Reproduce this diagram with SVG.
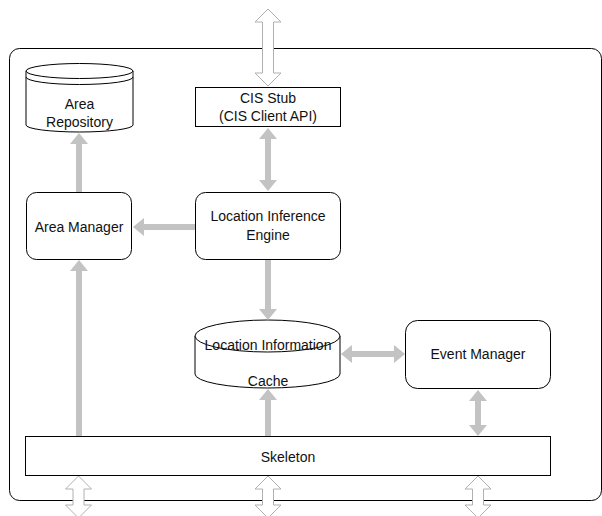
<svg xmlns="http://www.w3.org/2000/svg" xmlns:xlink="http://www.w3.org/1999/xlink" width="602" height="516" viewBox="0 0 602 516">
<style>
.box{fill:#fff;stroke:#000;stroke-width:1}
.ln{fill:none;stroke:#000;stroke-width:1}
.arr{fill:#c3c3c3;stroke:none}
.hol{fill:#fff;stroke:#b0b0b0;stroke-width:1}
text{font-family:"Liberation Sans",Arial,Helvetica,sans-serif;font-size:14px;fill:#111;text-anchor:middle}
</style>
<defs>
<path id="hollow" d="M0,0 L13,13 L5.5,13 L5.5,29 L13,29 L0,42 L-13,29 L-5.5,29 L-5.5,13 L-13,13 Z"/>
</defs>
<rect id="container" x="9.5" y="48.5" width="592" height="452" rx="10" ry="10" class="box"/>

<g id="area-repository">
<path class="box" d="M26,71 L26,125 A53.5,7 0 0 0 133,125 L133,71 Z"/>
<ellipse class="box" cx="79.5" cy="71" rx="53.5" ry="7.5"/>
<path class="ln" d="M26,77 A53.5,7.5 0 0 0 133,77"/>
<text x="79.5" y="109">Area</text>
<text x="79.5" y="127">Repository</text>
</g>

<g id="cis-stub">
<rect class="box" x="195.5" y="87.5" width="145" height="39"/>
<text x="268" y="103">CIS Stub</text>
<text x="268" y="121">(CIS Client API)</text>
</g>

<g id="area-manager">
<rect class="box" x="26.5" y="192.5" width="105" height="67" rx="10" ry="10"/>
<text x="79" y="232">Area Manager</text>
</g>

<g id="location-inference-engine">
<rect class="box" x="195.5" y="192.5" width="145" height="67" rx="10" ry="10"/>
<text x="268" y="221">Location Inference</text>
<text x="268" y="240">Engine</text>
</g>

<g id="location-information-cache">
<path class="box" d="M195,336 L195,374 A72.5,14 0 0 0 340,374 L340,336 Z"/>
<ellipse class="box" cx="267.5" cy="336" rx="72.5" ry="16"/>
<text x="268" y="350">Location Information</text>
<text x="268" y="386">Cache</text>
</g>

<g id="event-manager">
<rect class="box" x="405.5" y="320.5" width="145" height="68" rx="12" ry="12"/>
<text x="478" y="359">Event Manager</text>
</g>

<g id="skeleton">
<rect class="box" x="25.5" y="436.5" width="525" height="39"/>
<text x="288" y="462">Skeleton</text>
</g>

<g id="connectors">
<path class="hol" d="M268,9 L281,22 L273.5,22 L273.5,73 L281,73 L268,86 L255,73 L262.5,73 L262.5,22 L255,22 Z"/>
<polygon class="arr" points="268,128 277,139 271,139 271,180 277,180 268,191 259,180 265,180 265,139 259,139"/>
<polygon class="arr" points="195,224 144,224 144,218 133,227 144,236 144,230 195,230"/>
<polygon class="arr" points="76,192 76,144 70,144 79,133 88,144 82,144 82,192"/>
<polygon class="arr" points="265,260 265,309 259,309 268,320 277,309 271,309 271,260"/>
<polygon class="arr" points="76,436 76,271 70,271 79,260 88,271 82,271 82,436"/>
<polygon class="arr" points="265,436 265,400 259,400 268,389 277,400 271,400 271,436"/>
<polygon class="arr" points="341,354 352,345 352,351 394,351 394,345 405,354 394,363 394,357 352,357 352,363"/>
<polygon class="arr" points="478,390 487,401 481,401 481,425 487,425 478,436 469,425 475,425 475,401 469,401"/>
<use xlink:href="#hollow" class="hol" transform="translate(78.5,476)"/>
<use xlink:href="#hollow" class="hol" transform="translate(268,476)"/>
<use xlink:href="#hollow" class="hol" transform="translate(478,476)"/>
</g>
</svg>
